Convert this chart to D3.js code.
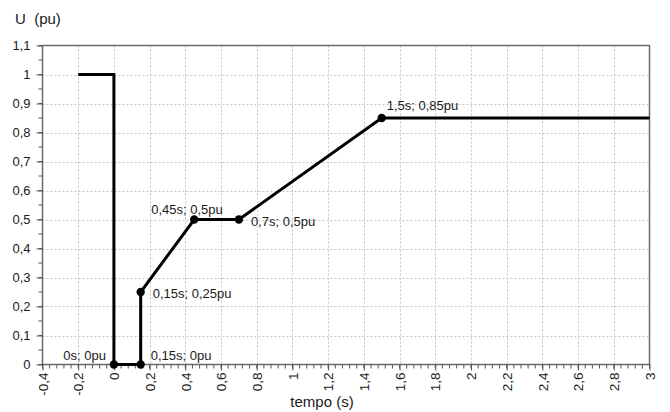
<!DOCTYPE html>
<html>
<head>
<meta charset="utf-8">
<script src="https://cdn.jsdelivr.net/npm/d3@7"></script>
<style>
  html, body { margin: 0; padding: 0; background: #fff; }
  text { font-family: "Liberation Sans", Arial, sans-serif; fill: #1a1a1a; }
</style>
</head>
<body>
<svg id="chart" width="670" height="412"></svg>
<script>
// ---- data ----
const timeValues = [-0.2, 0, 0, 0.15, 0.15, 0.45, 0.7, 1.5, 3];
const voltageValues = [1, 1, 0, 0, 0.25, 0.5, 0.5, 0.85, 0.85];
const markerTimes = [0, 0.15, 0.15, 0.45, 0.7, 1.5];
const markerVoltages = [0, 0, 0.25, 0.5, 0.5, 0.85];
const markerLabels = ["0s; 0pu", "0,15s; 0pu", "0,15s; 0,25pu", "0,45s; 0,5pu", "0,7s; 0,5pu", "1,5s; 0,85pu"];
const xTicks = [-0.4, -0.2, 0, 0.2, 0.4, 0.6, 0.8, 1, 1.2, 1.4, 1.6, 1.8, 2, 2.2, 2.4, 2.6, 2.8, 3];
const yTicks = [0, 0.1, 0.2, 0.3, 0.4, 0.5, 0.6, 0.7, 0.8, 0.9, 1, 1.1];
const xTitle = "tempo (s)";
const yTitle = "U  (pu)";

// ---- label placement (style only) ----
const labelOffsets = [
  { dx: -8, dy: -5, anchor: "end" },
  { dx: 10, dy: -5, anchor: "start" },
  { dx: 12, dy: 6, anchor: "start" },
  { dx: -43, dy: -6, anchor: "start" },
  { dx: 12, dy: 6.5, anchor: "start" },
  { dx: 5, dy: -8, anchor: "start" }
];

(function () {
const svg = d3.select("#chart");
const mL = 42.5, mR = 649.5, mT = 45.5, mB = 364.5;

const x = d3.scaleLinear().domain([-0.4, 3]).range([mL, mR]);
const y = d3.scaleLinear().domain([0, 1.1]).range([mB, mT]);

const fmt = d => String(+d.toFixed(2)).replace(".", ",");

// gridlines
const grid = svg.append("g");
grid.selectAll(".vg").data(xTicks.filter(d => d > -0.4 && d < 3)).join("line")
  .attr("x1", d => Math.round(x(d)) + 0.5).attr("x2", d => Math.round(x(d)) + 0.5)
  .attr("y1", mT).attr("y2", mB)
  .attr("stroke", "#c4c4c4").attr("stroke-width", 1).attr("stroke-dasharray", "2,2");
grid.selectAll(".hg").data(yTicks.filter(d => d > 0 && d < 1.1)).join("line")
  .attr("y1", d => Math.round(y(d)) + 0.5).attr("y2", d => Math.round(y(d)) + 0.5)
  .attr("x1", mL).attr("x2", mR)
  .attr("stroke", "#c4c4c4").attr("stroke-width", 1).attr("stroke-dasharray", "2,2");

// frame
svg.append("rect").attr("x", mL).attr("y", mT).attr("width", mR - mL).attr("height", mB - mT)
  .attr("fill", "none").attr("stroke", "#6a6a6a").attr("stroke-width", 1.5);

// minor ticks
const xMinor = d3.range(0, 86).map(i => -0.4 + i * 0.04);
svg.append("g").selectAll("line").data(xMinor).join("line")
  .attr("x1", d => x(d)).attr("x2", d => x(d))
  .attr("y1", mB).attr("y2", mB + 4)
  .attr("stroke", "#555").attr("stroke-width", 1);
const yMinor = d3.range(0, 23).map(i => i * 0.05);
svg.append("g").selectAll("line").data(yMinor).join("line")
  .attr("x1", mL - 4).attr("x2", mL)
  .attr("y1", d => y(d)).attr("y2", d => y(d))
  .attr("stroke", "#555").attr("stroke-width", 1);

// x axis
const xAxis = d3.axisBottom(x).tickValues(xTicks).tickSize(6).tickFormat(fmt);
const gx = svg.append("g").attr("transform", `translate(0,${mB})`).call(xAxis);
gx.select(".domain").remove();
gx.selectAll(".tick line").attr("stroke", "#555");
gx.selectAll(".tick text")
  .attr("font-size", 13.5)
  .attr("transform", "rotate(-90)")
  .attr("text-anchor", "end")
  .attr("x", -8).attr("y", 0).attr("dy", "0.35em");

// y axis
const yAxis = d3.axisLeft(y).tickValues(yTicks).tickSize(6).tickFormat(fmt);
const gy = svg.append("g").attr("transform", `translate(${mL},0)`).call(yAxis);
gy.select(".domain").remove();
gy.selectAll(".tick line").attr("stroke", "#555");
gy.selectAll(".tick text").attr("font-size", 13).attr("x", -12);

// titles
svg.append("text").attr("x", 322).attr("y", 407).attr("text-anchor", "middle")
  .attr("font-size", 15).text(xTitle);
svg.append("text").attr("x", 15).attr("y", 24).attr("font-size", 15)
  .attr("xml:space", "preserve").style("white-space", "pre").text(yTitle);

// line
const line = d3.line().x((d, i) => x(timeValues[i])).y((d, i) => y(voltageValues[i]));
svg.append("path").datum(timeValues).attr("d", line)
  .attr("fill", "none").attr("stroke", "#000").attr("stroke-width", 3)
  .attr("stroke-linejoin", "miter");

// markers
svg.append("g").selectAll("circle").data(markerTimes).join("circle")
  .attr("cx", d => x(d)).attr("cy", (d, i) => y(markerVoltages[i])).attr("r", 4.2)
  .attr("fill", "#000");

// labels
svg.append("g").selectAll("text").data(markerLabels).join("text")
  .attr("x", (d, i) => x(markerTimes[i]) + labelOffsets[i].dx)
  .attr("y", (d, i) => y(markerVoltages[i]) + labelOffsets[i].dy)
  .attr("text-anchor", (d, i) => labelOffsets[i].anchor)
  .attr("font-size", 13)
  .text(d => d);
})();
</script>
</body>
</html>
